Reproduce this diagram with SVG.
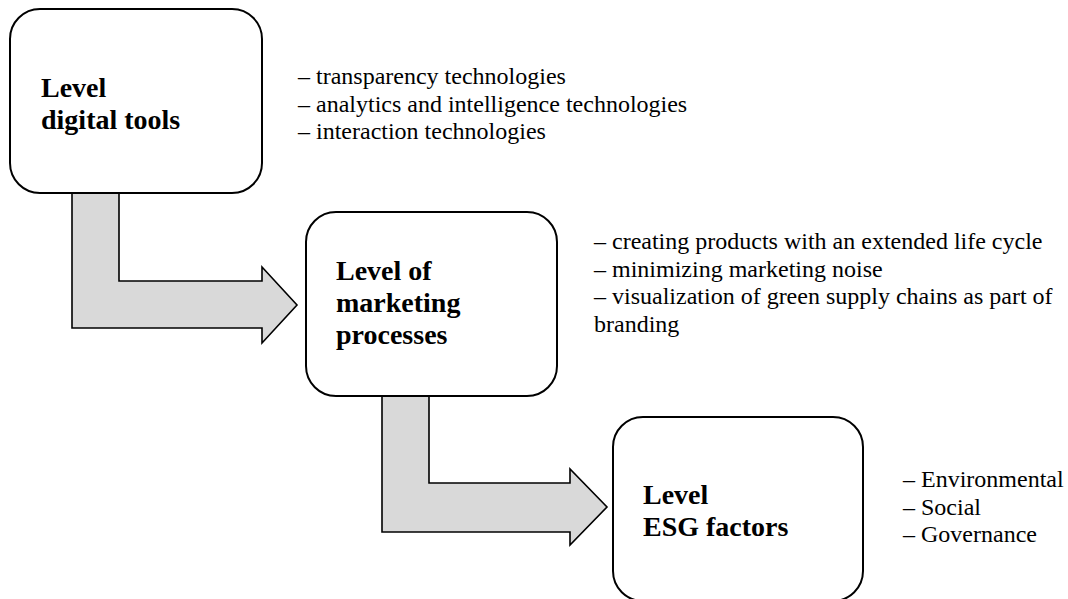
<svg xmlns="http://www.w3.org/2000/svg" width="1068" height="599" viewBox="0 0 1068 599">
  <style>
    .box { fill: #ffffff; stroke: #000000; stroke-width: 2; }
    .arrow { fill: #d9d9d9; stroke: #000000; stroke-width: 1.6; stroke-linejoin: miter; }
    .title { font-family: "Liberation Serif", "Times New Roman", serif; font-size: 28px; font-weight: bold; fill: #000000; }
    .item { font-family: "Liberation Serif", "Times New Roman", serif; font-size: 24px; fill: #000000; }
  </style>
  <rect width="1068" height="599" fill="#ffffff"/>

  <!-- bent block arrows between levels -->
  <g id="connectors">
    <polygon class="arrow" points="72,192 119,192 119,281 262,281 262,267 297,305 262,343 262,328 72,328"/>
    <polygon class="arrow" points="382,395 429,395 429,483 570,483 570,469 607,507 570,545 570,532 382,532"/>
  </g>

  <g id="level-digital-tools">
    <rect class="box" x="10" y="9" width="252" height="184" rx="30" ry="30"/>
    <text class="title" x="41" y="97">Level</text>
    <text class="title" x="41" y="129">digital tools</text>
  </g>
  <g id="digital-tools-list">
    <text class="item" x="298" y="84">– transparency technologies</text>
    <text class="item" x="298" y="111.6">– analytics and intelligence technologies</text>
    <text class="item" x="298" y="139">– interaction technologies</text>
  </g>

  <g id="level-marketing-processes">
    <rect class="box" x="306" y="212" width="251" height="184" rx="30" ry="30"/>
    <text class="title" x="336" y="280">Level of</text>
    <text class="title" x="336" y="312">marketing</text>
    <text class="title" x="336" y="344">processes</text>
  </g>
  <g id="marketing-processes-list">
    <text class="item" x="594" y="249">– creating products with an extended life cycle</text>
    <text class="item" x="594" y="276.6">– minimizing marketing noise</text>
    <text class="item" x="594" y="304">– visualization of green supply chains as part of</text>
    <text class="item" x="594" y="331.6">branding</text>
  </g>

  <g id="level-esg-factors">
    <rect class="box" x="613" y="417" width="250" height="184" rx="30" ry="30"/>
    <text class="title" x="643" y="504">Level</text>
    <text class="title" x="643" y="536">ESG factors</text>
  </g>
  <g id="esg-factors-list">
    <text class="item" x="903" y="487">– Environmental</text>
    <text class="item" x="903" y="514.6">– Social</text>
    <text class="item" x="903" y="542">– Governance</text>
  </g>
</svg>
